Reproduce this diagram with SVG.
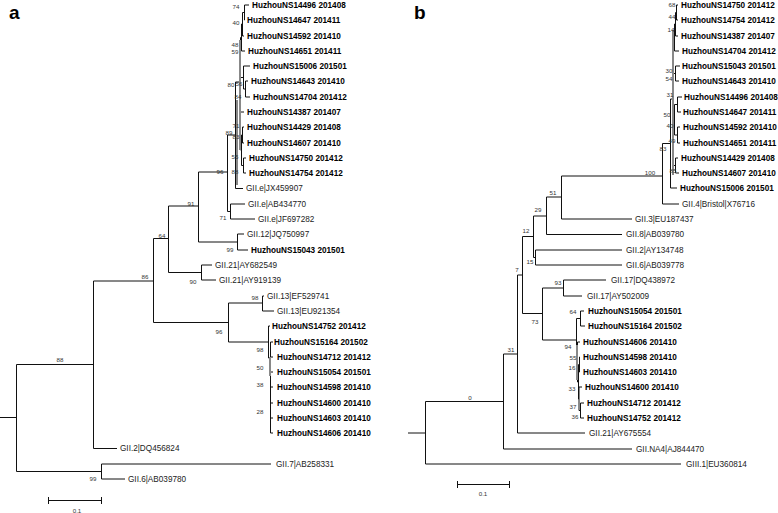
<svg xmlns="http://www.w3.org/2000/svg" width="778" height="513" viewBox="0 0 778 513">
<style>
.l{fill:none;stroke:#111;stroke-width:1}
.g{fill:none;stroke:#888;stroke-width:2}
.h{font-family:"Liberation Sans",Arial,sans-serif;font-size:8.2px;font-weight:bold;fill:#000}
.r{font-family:"Liberation Sans",Arial,sans-serif;font-size:8.2px;fill:#222}
.s{font-family:"Liberation Sans",Arial,sans-serif;font-size:6.2px;fill:#333;text-anchor:middle}
.p{font-family:"Liberation Sans",Arial,sans-serif;font-size:19px;font-weight:bold;fill:#000}
</style>
<rect width="778" height="513" fill="#fff"/>
<text class="p" x="9" y="19">a</text>
<text class="p" x="414" y="19">b</text>
<g id="connectors">
<path class="l" d="M0,417.5H16.5M16.5,364.5V471.5M16.5,364.5H93.5M16.5,471.5H101.5
M93.5,281V448.5H117M93.5,281H153.5
M101.5,464V479M101.5,464H271M101.5,479H125
M153.5,238.5V322.5M153.5,238.5H168.5M153.5,322.5H228.5
M168.5,206V272.5M168.5,206H198.5M168.5,272.5H201.5
M201.5,265V280M201.5,265H212M201.5,280H216
M198.5,172V242M198.5,172H227.5M198.5,242H237.5
M237.5,234V250M237.5,234H244M237.5,250H248
M227.5,135V211.5M227.5,135H235.5M227.5,211.5H230.5
M230.5,204V219M230.5,204H245M230.5,219H255
M235.5,82V188.5M235.5,188.5H243M235.5,82H239.5
M239.5,57.5V131M239.5,57.5H240.5M239.5,131H240.5
M240.5,37.5V77.5M240.5,37.5H241.5M240.5,77.5H243.5
M241.5,24V51M241.5,24H242.5M241.5,51H245
M242.5,12.5V36M242.5,12.5H244M242.5,36H244
M244.5,5V20M244.5,5H249M244.5,20H245
M243.5,66V89M243.5,66H250M243.5,89H245.5
M245.5,81V97M245.5,81H248M245.5,97H250
M240.5,112V150M240.5,112H244M240.5,150H241.5
M241.5,135V165.5M241.5,135H242.5M241.5,165.5H243.5
M242.5,127V143M242.5,127H244M242.5,143H244
M243.5,158V173M243.5,158H246M243.5,173H246
M228.5,303V342M228.5,303H262.5M228.5,342H268.5
M262.5,296V311M262.5,296H264M262.5,311H274
M268.5,326V358M268.5,326H270M268.5,358H270.5
M270.5,342V433M270.5,342H273M270.5,357H273M270.5,372H273M270.5,387H273M270.5,403H273M270.5,418H273M270.5,433H273"/>
<path class="g" d="M240,40V150M270,357V376M237,100V185"/>
<path class="l" d="M408,433H425.5M425.5,401.5V464M425.5,401.5H503.5M425.5,464H681
M503.5,354V449M503.5,354H517.5M503.5,449H632
M517.5,275V433M517.5,275H522.5M517.5,433H585
M522.5,236.5V313.5M522.5,236.5H533.5M522.5,313.5H542.5
M533.5,216V257.5M533.5,216H546.5M533.5,257.5H535.5
M535.5,250V265M535.5,250H622M535.5,265H622
M546.5,197V234.5M546.5,197H561.5M546.5,234.5H622
M561.5,176V219M561.5,176H662.5M561.5,219H632
M662.5,143.5V204M662.5,143.5H670.5M662.5,204H679
M670.5,99V188M670.5,99H672.5M670.5,188H677
M672.5,55.5V143M672.5,55.5H673.5M672.5,143H673.5
M673.5,37.5V73.5M673.5,37.5H674.5M673.5,73.5H675.5
M674.5,24V51M674.5,24H675.5M674.5,51H679
M675.5,12.5V36M675.5,12.5H676.5M675.5,36H678
M676.5,5V20M676.5,5H678M676.5,20H678
M675.5,66V81M675.5,66H680M675.5,81H679
M673.5,120V165.5M673.5,120H674.5M673.5,165.5H675.5
M674.5,104.5V135M674.5,104.5H677.5M674.5,135H677.5
M677.5,97V112M677.5,97H682M677.5,112H681
M677.5,127V143M677.5,127H680M677.5,143H680
M675.5,158V173M675.5,158H678M675.5,173H679
M542.5,288V340M542.5,288H563.5M542.5,340H576.5
M563.5,280V296M563.5,280H606M563.5,296H582
M576.5,318.5V362M576.5,318.5H580.5M576.5,362H577.5
M580.5,311V326M580.5,311H584M580.5,326H585
M577.5,342V382M577.5,342H580M577.5,382H578.5
M578.5,364.5V399M578.5,364.5H579.5M578.5,399H579
M579.5,357V372M579.5,357H580M579.5,372H580
M579,387V410.5M579,387H582M579,410.5H580.5
M580.5,403V418M580.5,403H584M580.5,418H584"/>
<path class="g" d="M673,30V175M577,345V380"/>
<path class="l" d="M48,500.5H102M48.5,497V504M101.5,497V504M457,484.5H510M457.5,481V488M509.5,481V488"/>
</g>
<g id="tree-a-leaves">
<g id="a1"><text class="h" x="252" y="8">HuzhouNS14496 201408</text></g>
<g id="a2"><text class="h" x="247" y="23">HuzhouNS14647 201411</text></g>
<g id="a3"><text class="h" x="247" y="39">HuzhouNS14592 201410</text></g>
<g id="a4"><text class="h" x="248" y="54">HuzhouNS14651 201411</text></g>
<g id="a5"><text class="h" x="253" y="69">HuzhouNS15006 201501</text></g>
<g id="a6"><text class="h" x="251" y="84">HuzhouNS14643 201410</text></g>
<g id="a7"><text class="h" x="253" y="100">HuzhouNS14704 201412</text></g>
<g id="a8"><text class="h" x="247" y="115">HuzhouNS14387 201407</text></g>
<g id="a9"><text class="h" x="247" y="130">HuzhouNS14429 201408</text></g>
<g id="a10"><text class="h" x="247" y="146">HuzhouNS14607 201410</text></g>
<g id="a11"><text class="h" x="249" y="161">HuzhouNS14750 201412</text></g>
<g id="a12"><text class="h" x="249" y="176">HuzhouNS14754 201412</text></g>
<g id="a13"><text class="r" x="246" y="191">GII.e|JX459907</text></g>
<g id="a14"><text class="r" x="248" y="207">GII.e|AB434770</text></g>
<g id="a15"><text class="r" x="258" y="222">GII.e|JF697282</text></g>
<g id="a16"><text class="r" x="247" y="237">GII.12|JQ750997</text></g>
<g id="a17"><text class="h" x="251" y="253">HuzhouNS15043 201501</text></g>
<g id="a18"><text class="r" x="215" y="268">GII.21|AY682549</text></g>
<g id="a19"><text class="r" x="219" y="283">GII.21|AY919139</text></g>
<g id="a20"><text class="r" x="267" y="299">GII.13|EF529741</text></g>
<g id="a21"><text class="r" x="277" y="314">GII.13|EU921354</text></g>
<g id="a22"><text class="h" x="272" y="329">HuzhouNS14752 201412</text></g>
<g id="a23"><text class="h" x="274" y="345">HuzhouNS15164 201502</text></g>
<g id="a24"><text class="h" x="277" y="360">HuzhouNS14712 201412</text></g>
<g id="a25"><text class="h" x="277" y="375">HuzhouNS15054 201501</text></g>
<g id="a26"><text class="h" x="277" y="390">HuzhouNS14598 201410</text></g>
<g id="a27"><text class="h" x="277" y="406">HuzhouNS14600 201410</text></g>
<g id="a28"><text class="h" x="277" y="421">HuzhouNS14603 201410</text></g>
<g id="a29"><text class="h" x="277" y="436">HuzhouNS14606 201410</text></g>
<g id="a30"><text class="r" x="120" y="451">GII.2|DQ456824</text></g>
<g id="a31"><text class="r" x="276" y="467">GII.7|AB258331</text></g>
<g id="a32"><text class="r" x="128" y="482">GII.6|AB039780</text></g>
</g>
<g id="tree-b-leaves">
<g id="b1"><text class="h" x="681" y="8">HuzhouNS14750 201412</text></g>
<g id="b2"><text class="h" x="681" y="23">HuzhouNS14754 201412</text></g>
<g id="b3"><text class="h" x="681" y="39">HuzhouNS14387 201407</text></g>
<g id="b4"><text class="h" x="682" y="54">HuzhouNS14704 201412</text></g>
<g id="b5"><text class="h" x="682" y="69">HuzhouNS15043 201501</text></g>
<g id="b6"><text class="h" x="682" y="84">HuzhouNS14643 201410</text></g>
<g id="b7"><text class="h" x="684" y="100">HuzhouNS14496 201408</text></g>
<g id="b8"><text class="h" x="683" y="115">HuzhouNS14647 201411</text></g>
<g id="b9"><text class="h" x="683" y="130">HuzhouNS14592 201410</text></g>
<g id="b10"><text class="h" x="683" y="146">HuzhouNS14651 201411</text></g>
<g id="b11"><text class="h" x="681" y="161">HuzhouNS14429 201408</text></g>
<g id="b12"><text class="h" x="682" y="176">HuzhouNS14607 201410</text></g>
<g id="b13"><text class="h" x="680" y="191">HuzhouNS15006 201501</text></g>
<g id="b14"><text class="r" x="682" y="207">GII.4|Bristol|X76716</text></g>
<g id="b15"><text class="r" x="635" y="222">GII.3|EU187437</text></g>
<g id="b16"><text class="r" x="626" y="237">GII.8|AB039780</text></g>
<g id="b17"><text class="r" x="626" y="253">GII.2|AY134748</text></g>
<g id="b18"><text class="r" x="626" y="268">GII.6|AB039778</text></g>
<g id="b19"><text class="r" x="611" y="283">GII.17|DQ438972</text></g>
<g id="b20"><text class="r" x="587" y="299">GII.17|AY502009</text></g>
<g id="b21"><text class="h" x="588" y="314">HuzhouNS15054 201501</text></g>
<g id="b22"><text class="h" x="588" y="329">HuzhouNS15164 201502</text></g>
<g id="b23"><text class="h" x="583" y="345">HuzhouNS14606 201410</text></g>
<g id="b24"><text class="h" x="583" y="360">HuzhouNS14598 201410</text></g>
<g id="b25"><text class="h" x="583" y="375">HuzhouNS14603 201410</text></g>
<g id="b26"><text class="h" x="585" y="390">HuzhouNS14600 201410</text></g>
<g id="b27"><text class="h" x="587" y="406">HuzhouNS14712 201412</text></g>
<g id="b28"><text class="h" x="587" y="421">HuzhouNS14752 201412</text></g>
<g id="b29"><text class="r" x="589" y="436">GII.21|AY675554</text></g>
<g id="b30"><text class="r" x="636" y="452">GII.NA4|AJ844470</text></g>
<g id="b31"><text class="r" x="686" y="467">GIII.1|EU360814</text></g>
</g>
<g id="bootstrap">
<text class="s" x="236" y="9">74</text><text class="s" x="236" y="25">40</text><text class="s" x="235" y="47">48</text><text class="s" x="235" y="54">59</text>
<text class="s" x="231" y="87">80</text><text class="s" x="239" y="86">56</text><text class="s" x="238" y="99">84</text>
<text class="s" x="236" y="128">71</text><text class="s" x="229" y="135">89</text><text class="s" x="236" y="139">83</text>
<text class="s" x="235" y="159">55</text><text class="s" x="235" y="174">88</text><text class="s" x="220" y="174">96</text>
<text class="s" x="191" y="206">91</text><text class="s" x="223" y="220">71</text><text class="s" x="162" y="238">64</text>
<text class="s" x="230" y="252">99</text><text class="s" x="193" y="284">90</text><text class="s" x="145" y="279">86</text>
<text class="s" x="255" y="300">98</text><text class="s" x="219" y="334">96</text><text class="s" x="260" y="352">98</text>
<text class="s" x="260" y="370">50</text><text class="s" x="260" y="387">38</text><text class="s" x="260" y="414">28</text>
<text class="s" x="60" y="362">88</text><text class="s" x="93" y="481">99</text>
<text class="s" x="77" y="513">0.1</text>
<text class="s" x="672" y="7">68</text><text class="s" x="672" y="19">44</text><text class="s" x="671" y="32">14</text>
<text class="s" x="669" y="73">30</text><text class="s" x="669" y="81">54</text><text class="s" x="670" y="97">31</text>
<text class="s" x="667" y="117">50</text><text class="s" x="670" y="128">40</text><text class="s" x="672" y="143">49</text>
<text class="s" x="663" y="151">83</text><text class="s" x="673" y="173">85</text><text class="s" x="650" y="175">100</text>
<text class="s" x="553" y="195">51</text><text class="s" x="538" y="212">29</text><text class="s" x="526" y="233">12</text>
<text class="s" x="530" y="264">15</text><text class="s" x="517" y="272">7</text><text class="s" x="558" y="285">93</text>
<text class="s" x="535" y="324">73</text><text class="s" x="573" y="314">64</text><text class="s" x="568" y="349">94</text>
<text class="s" x="573" y="360">55</text><text class="s" x="572" y="370">16</text><text class="s" x="572" y="391">33</text>
<text class="s" x="573" y="409">37</text><text class="s" x="575" y="419">36</text><text class="s" x="511" y="352">31</text>
<text class="s" x="470" y="400">0</text>
<text class="s" x="483" y="496">0.1</text>
</g>
</svg>
